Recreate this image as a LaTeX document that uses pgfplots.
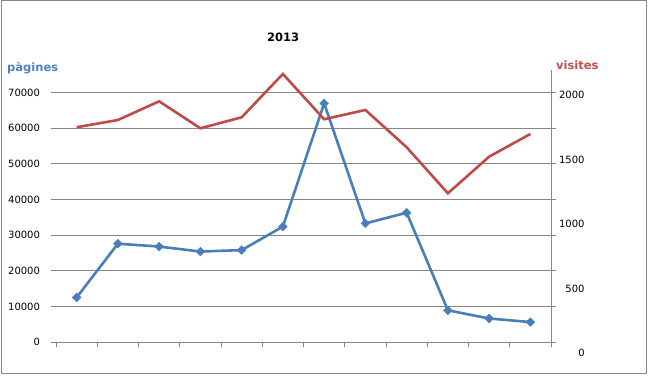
\documentclass[border=0pt]{standalone}
\usepackage{pgfplots}
\pgfplotsset{compat=1.18}
\usepackage{fontspec}
\setmainfont{DejaVu Sans}
\definecolor{blueS}{RGB}{74,126,187}
\definecolor{redS}{RGB}{190,75,72}
\definecolor{gridc}{RGB}{134,134,134}
\definecolor{bluelab}{RGB}{79,129,189}
\definecolor{redlab}{RGB}{192,80,77}
\begin{document}
\begin{tikzpicture}[x=1bp,y=1bp]
\path[use as bounding box] (0,0) rectangle (648,377);
\draw[gridc, line width=1bp] (1,4) rectangle (646,376);
\begin{axis}[
  at={(56bp,35bp)}, anchor=south west, scale only axis,
  width=495bp, height=272bp,
  xmin=-0.5, xmax=11.5, ymin=0, ymax=76374,
  axis line style={draw=none},
  xtick pos=bottom, ytick pos=both, yticklabel pos=left,
  xtick={-0.5,0.5,1.5,2.5,3.5,4.5,5.5,6.5,7.5,8.5,9.5,10.5,11.5},
  xticklabels={},
  tick align=outside, major tick length=5bp,
  tick style={gridc, line width=1bp},
  ytick={0,10000,20000,30000,40000,50000,60000,70000},
  ymajorgrids, grid style={gridc, line width=0.9bp},
  scaled y ticks=false,
  yticklabel style={font=\fontsize{10bp}{12bp}\selectfont, anchor=east, xshift=-7.5bp,
    /pgf/number format/1000 sep={}, /pgf/number format/assume math mode=true},
  extra description/.code={
    \draw[gridc, line width=1bp] (rel axis cs:0,0) -- (rel axis cs:1,0) -- (rel axis cs:1,1);
  },
]
\addplot[blueS, line width=2.6bp, mark=square*, mark size=3.1bp,
  mark options={rotate=45, fill=blueS, draw=blueS, line width=0.4bp}]
 coordinates {(0,12500) (1,27600) (2,26800) (3,25400) (4,25800) (5,32400) (6,67000) (7,33300) (8,36300) (9,8900) (10,6600) (11,5600)};
\end{axis}
\begin{axis}[
  at={(56bp,35bp)}, anchor=south west, scale only axis,
  width=495bp, height=272bp,
  xmin=-0.5, xmax=11.5, ymin=85.27, ymax=2193.8,
  axis line style={draw=none},
  hide x axis,
  ytick pos=right, yticklabel pos=right,
  major tick length=0bp, ytick style={draw=none},
  ytick={500,1000,1500,2000},
  scaled y ticks=false,
  yticklabel style={font=\fontsize{10bp}{12bp}\selectfont, anchor=east, xshift=37bp,
    /pgf/number format/1000 sep={}, /pgf/number format/assume math mode=true},
]
\addplot[redS, line width=2.6bp, mark=none]
 coordinates {(0,1750) (1,1806) (2,1951) (3,1742) (4,1827) (5,2163) (6,1812) (7,1884) (8,1595) (9,1238) (10,1522) (11,1698)};
\end{axis}
\node[anchor=east, inner sep=0pt, font=\fontsize{10bp}{12bp}\selectfont] at (585,24) {0};
\node[font=\bfseries\fontsize{11.5bp}{13bp}\selectfont] at (283,339.3) {2013};
\node[anchor=west, inner sep=0pt, text=bluelab, font=\bfseries\fontsize{11.5bp}{13bp}\selectfont] at (7,309) {pàgines};
\node[anchor=west, inner sep=0pt, text=redlab, font=\bfseries\fontsize{11.5bp}{13bp}\selectfont] at (556,312) {visites};
\end{tikzpicture}
\end{document}
